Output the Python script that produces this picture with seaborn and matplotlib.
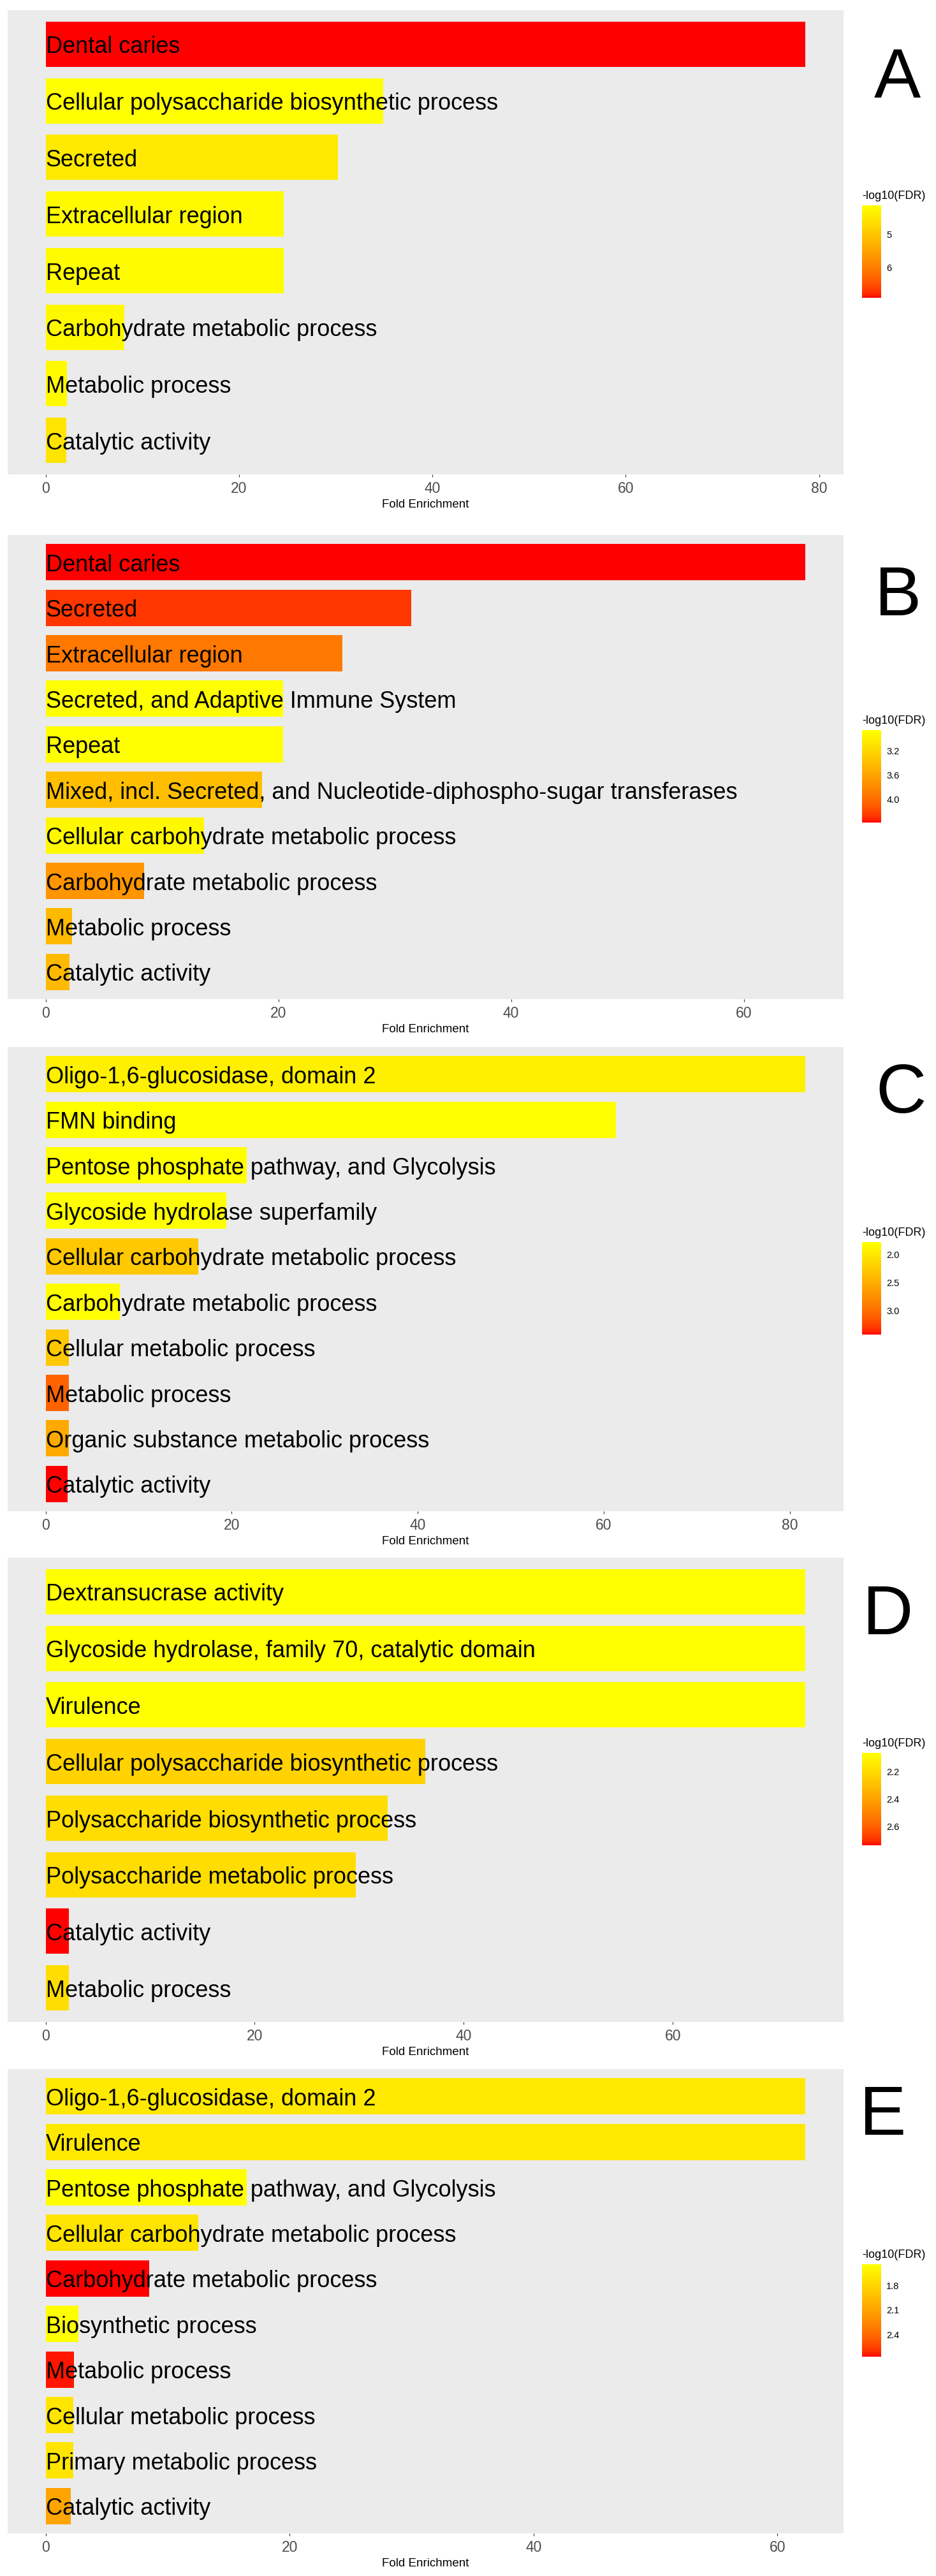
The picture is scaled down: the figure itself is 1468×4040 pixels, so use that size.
import numpy as np
import pandas as pd
import matplotlib
matplotlib.use("Agg")
import matplotlib.pyplot as plt
import seaborn as sns
from matplotlib.colors import ListedColormap, Normalize
from matplotlib.cm import ScalarMappable
from matplotlib.ticker import MultipleLocator

# ---------------- data ----------------
terms_a = ["Dental caries", "Cellular polysaccharide biosynthetic process", "Secreted",
           "Extracellular region", "Repeat", "Carbohydrate metabolic process",
           "Metabolic process", "Catalytic activity"]
fold_a = [78.6, 34.9, 30.2, 24.6, 24.6, 8.15, 2.2, 2.16]
fdr_a = [6.94, 4.10, 4.45, 4.18, 4.15, 4.20, 4.18, 4.53]
cbticks_a = [5, 6]
cblabels_a = ["5", "6"]

terms_b = ["Dental caries", "Secreted", "Extracellular region",
           "Secreted, and Adaptive Immune System", "Repeat",
           "Mixed, incl. Secreted, and Nucleotide-diphospho-sugar transferases",
           "Cellular carbohydrate metabolic process", "Carbohydrate metabolic process",
           "Metabolic process", "Catalytic activity"]
fold_b = [65.3, 31.4, 25.5, 20.4, 20.4, 18.6, 13.6, 8.46, 2.26, 2.05]
fdr_b = [4.38, 4.27, 3.92, 2.86, 2.86, 3.39, 2.92, 3.71, 3.44, 3.44]
cbticks_b = [3.2, 3.6, 4.0]
cblabels_b = ["3.2", "3.6", "4.0"]

terms_c = ["Oligo-1,6-glucosidase, domain 2", "FMN binding",
           "Pentose phosphate pathway, and Glycolysis", "Glycoside hydrolase superfamily",
           "Cellular carbohydrate metabolic process", "Carbohydrate metabolic process",
           "Cellular metabolic process", "Metabolic process",
           "Organic substance metabolic process", "Catalytic activity"]
fold_c = [81.7, 61.3, 21.6, 19.4, 16.4, 8.0, 2.5, 2.5, 2.5, 2.37]
fdr_c = [1.92, 1.78, 1.78, 1.78, 2.27, 1.80, 2.27, 3.07, 2.54, 3.43]
cbticks_c = [2.0, 2.5, 3.0]
cblabels_c = ["2.0", "2.5", "3.0"]

terms_d = ["Dextransucrase activity", "Glycoside hydrolase, family 70, catalytic domain",
           "Virulence", "Cellular polysaccharide biosynthetic process",
           "Polysaccharide biosynthetic process", "Polysaccharide metabolic process",
           "Catalytic activity", "Metabolic process"]
fold_d = [72.7, 72.7, 72.7, 36.3, 32.7, 29.7, 2.22, 2.22]
fdr_d = [2.06, 2.06, 2.06, 2.23, 2.19, 2.19, 2.74, 2.19]
cbticks_d = [2.2, 2.4, 2.6]
cblabels_d = ["2.2", "2.4", "2.6"]

terms_e = ["Oligo-1,6-glucosidase, domain 2", "Virulence",
           "Pentose phosphate pathway, and Glycolysis",
           "Cellular carbohydrate metabolic process", "Carbohydrate metabolic process",
           "Biosynthetic process", "Metabolic process", "Cellular metabolic process",
           "Primary metabolic process", "Catalytic activity"]
fold_e = [62.3, 62.3, 16.5, 12.5, 8.5, 2.69, 2.3, 2.25, 2.25, 2.05]
fdr_e = [1.68, 1.68, 1.54, 1.71, 2.67, 1.54, 2.65, 1.70, 1.70, 2.09]
cbticks_e = [1.8, 2.1, 2.4]
cblabels_e = ["1.8", "2.1", "2.4"]

panel_letters = ["A", "B", "C", "D", "E"]
x_label = "Fold Enrichment"
legend_title = "-log10(FDR)"

# ---------------- style ----------------
sns.set_theme(style="white")
plt.rcParams['font.family'] = ['Liberation Sans', 'DejaVu Sans']

W, H = 1468, 4040
fig = plt.figure(figsize=(W / 100, H / 100), dpi=100)
fig.patch.set_facecolor("white")


def box(x0, y0, w, h):
    return [x0 / W, 1 - (y0 + h) / H, w / W, h / H]


# ggplot-like gradient (Lab interpolation) from yellow (low) to red (high)
def _to_lab(rgb):
    rgb = np.asarray(rgb, float)
    lin = np.where(rgb <= 0.04045, rgb / 12.92, ((rgb + 0.055) / 1.055) ** 2.4)
    M = np.array([[0.4124, 0.3576, 0.1805], [0.2126, 0.7152, 0.0722], [0.0193, 0.1192, 0.9505]])
    xyz = M @ lin
    wp = M @ np.ones(3)
    t = xyz / wp
    d = 6 / 29
    f = np.where(t > d ** 3, np.cbrt(t), t / (3 * d * d) + 4 / 29)
    return np.array([116 * f[1] - 16, 500 * (f[0] - f[1]), 200 * (f[1] - f[2])])


def _from_lab(lab):
    M = np.array([[0.4124, 0.3576, 0.1805], [0.2126, 0.7152, 0.0722], [0.0193, 0.1192, 0.9505]])
    wp = M @ np.ones(3)
    L, a, b = lab
    fy = (L + 16) / 116
    fx = fy + a / 500
    fz = fy - b / 200
    d = 6 / 29
    f = np.array([fx, fy, fz])
    t = np.where(f > d, f ** 3, 3 * d * d * (f - 4 / 29))
    xyz = t * wp
    lin = np.linalg.inv(M) @ xyz
    lin = np.clip(lin, 0, 1)
    srgb = np.where(lin <= 0.0031308, 12.92 * lin, 1.055 * lin ** (1 / 2.4) - 0.055)
    return np.clip(srgb, 0, 1)


lab0 = _to_lab([1, 1, 0])
lab1 = _to_lab([1, 0, 0])
cmap = ListedColormap([_from_lab(lab0 + (lab1 - lab0) * s) for s in np.linspace(0, 1, 256)])

panels = [
    (terms_a, fold_a, fdr_a, cbticks_a, cblabels_a),
    (terms_b, fold_b, fdr_b, cbticks_b, cblabels_b),
    (terms_c, fold_c, fdr_c, cbticks_c, cblabels_c),
    (terms_d, fold_d, fdr_d, cbticks_d, cblabels_d),
    (terms_e, fold_e, fdr_e, cbticks_e, cblabels_e),
]
panel_tops = [16, 839, 1642, 2443, 3245]
panel_h = 728
letter_x = [1407, 1409, 1413, 1393, 1385]
letter_base = [153, 965, 1745, 2563, 3348]

for k, (terms, fold, fdr, cbt, cbl) in enumerate(panels):
    top = panel_tops[k]
    ax = fig.add_axes(box(12, top, 1311, panel_h))
    ax.set_facecolor("#EBEBEB")
    norm = Normalize(vmin=min(fdr), vmax=max(fdr))
    df = pd.DataFrame({"term": terms, "fold": fold, "fdr": fdr})
    pal = {t: cmap(norm(v)) for t, v in zip(terms, fdr)}
    sns.barplot(data=df, x="fold", y="term", hue="term", palette=pal, orient="h",
                width=0.8, saturation=1, legend=False, linewidth=0, ax=ax)
    n = len(terms)
    m = max(fold)
    ax.set_xlim(-0.05 * m, 1.05 * m)
    ax.set_ylim(n - 1 + 0.6, -0.6)
    for s in ax.spines.values():
        s.set_visible(False)
    ax.grid(False)
    ax.set_yticks([])
    ax.set_ylabel("")
    ax.xaxis.set_major_locator(MultipleLocator(20))
    ax.tick_params(axis="x", bottom=True, length=3.2, width=0.8, color="#333333",
                   labelsize=16.5, labelcolor="#4D4D4D", pad=5)
    ax.set_xlabel(x_label, fontsize=13.5, color="black", labelpad=3.6)
    for i, t in enumerate(terms):
        ax.annotate(t, xy=(0, i), xytext=(0, -10.2), textcoords="offset points",
                    ha="left", va="baseline", fontsize=26, color="black")

    # colorbar
    cax = fig.add_axes(box(1352, top + 306, 30, 145))
    cb = fig.colorbar(ScalarMappable(norm=norm, cmap=cmap), cax=cax)
    cb.outline.set_visible(False)
    cax.invert_yaxis()
    cb.set_ticks(cbt)
    cb.set_ticklabels(cbl)
    cax.tick_params(direction="in", length=4.3, width=0.7, color="white",
                    left=True, right=True, labelleft=False, labelright=True,
                    labelsize=10.5, labelcolor="black", pad=6)
    cax.text(0, 1 + 10 / 145, legend_title, transform=cax.transAxes, ha="left",
             va="baseline", fontsize=13, color="black")

    fig.text(letter_x[k] / W, 1 - letter_base[k] / H, panel_letters[k], ha="center",
             va="baseline", fontsize=79, color="black")

fig.savefig("out.png", dpi=100, facecolor="white")
